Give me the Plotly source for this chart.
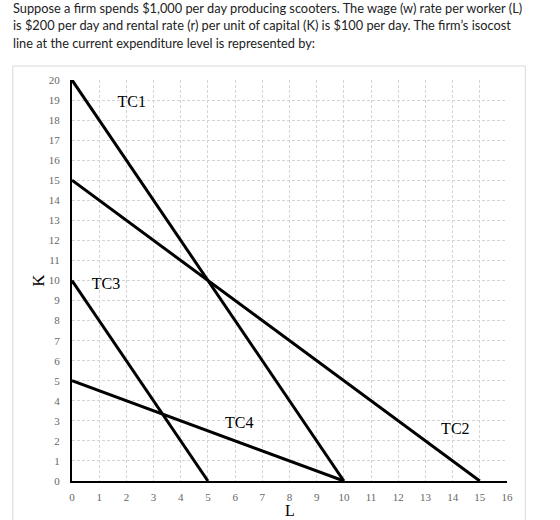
import plotly.graph_objects as go

# Isocost lines: K-intercept and L-intercept
line_names = ["TC1", "TC2", "TC3", "TC4"]
k_intercepts = [20, 15, 10, 5]
l_intercepts = [10, 15, 5, 10]

label_x = [2.2, 14.1, 1.25, 6.15]
label_y = [18.85, 2.55, 9.8, 2.85]

x_ticks = list(range(0, 17))
y_ticks = list(range(0, 21))
x_title = "L"
y_title = "K"

title_lines = [
    "Suppose a firm spends $1,000 per day producing scooters. The wage (w) rate per worker (L)",
    "is $200 per day and rental rate (r) per unit of capital (K) is $100 per day. The firm\u2019s isocost",
    "line at the current expenditure level is represented by:",
]

W, H = 560, 520
L_M, R_M, T_M, B_M = 71.7, 53.3, 80, 39
PW = W - L_M - R_M
PH = H - T_M - B_M

fig = go.Figure()
for name, k, l in zip(line_names, k_intercepts, l_intercepts):
    fig.add_trace(go.Scatter(x=[0, l], y=[k, 0], mode="lines", name=name,
                             line=dict(color="black", width=3), cliponaxis=False,
                             hoverinfo="skip", showlegend=False))

fig.add_trace(go.Scatter(x=label_x, y=label_y, mode="text", text=line_names,
                         textfont=dict(family="Liberation Serif", size=16, color="black"),
                         showlegend=False, hoverinfo="skip"))

def px_x(p):
    return (p - L_M) / PW

def px_y(p):
    return (H - B_M - p) / PH

# outer frame
fig.add_shape(type="rect", xref="paper", yref="paper",
              x0=px_x(12.5), x1=px_x(525), y0=px_y(560), y1=px_y(66),
              line=dict(color="#d9d9d9", width=1), layer="below")

for i, t in enumerate(title_lines):
    fig.add_annotation(text=t, xref="paper", yref="paper", x=px_x(11), y=px_y(7.5 + i * 17.6),
                       xanchor="left", yanchor="middle", showarrow=False,
                       font=dict(family="Lato", size=12.8, color="#222222"))

# axis titles
fig.add_annotation(text=x_title, xref="paper", yref="paper", x=0.5, y=px_y(510.5),
                   xanchor="center", yanchor="middle", showarrow=False, borderpad=0,
                   font=dict(family="Liberation Serif", size=16, color="black"))
fig.add_annotation(text=y_title, xref="paper", yref="paper", x=px_x(38), y=0.5,
                   xanchor="center", yanchor="middle", showarrow=False, textangle=-90,
                   font=dict(family="Liberation Serif", size=17, color="black"))

grid = dict(showgrid=True, gridcolor="#d4d4d4", gridwidth=1, griddash="3px,2px",
            zeroline=False, showline=True, linecolor="black", linewidth=2,
            ticks="", automargin=False,
            tickfont=dict(family="Liberation Serif", size=11, color="#666666"))

fig.update_xaxes(range=[0, 16], tickvals=x_ticks, ticklabelstandoff=5, **grid)
fig.update_yaxes(range=[0, 20], tickvals=y_ticks, ticklabelstandoff=8, **grid)

fig.update_layout(width=W, height=H, margin=dict(l=L_M, r=R_M, t=T_M, b=B_M),
                  plot_bgcolor="white", paper_bgcolor="white")

fig.write_html("out.html")
